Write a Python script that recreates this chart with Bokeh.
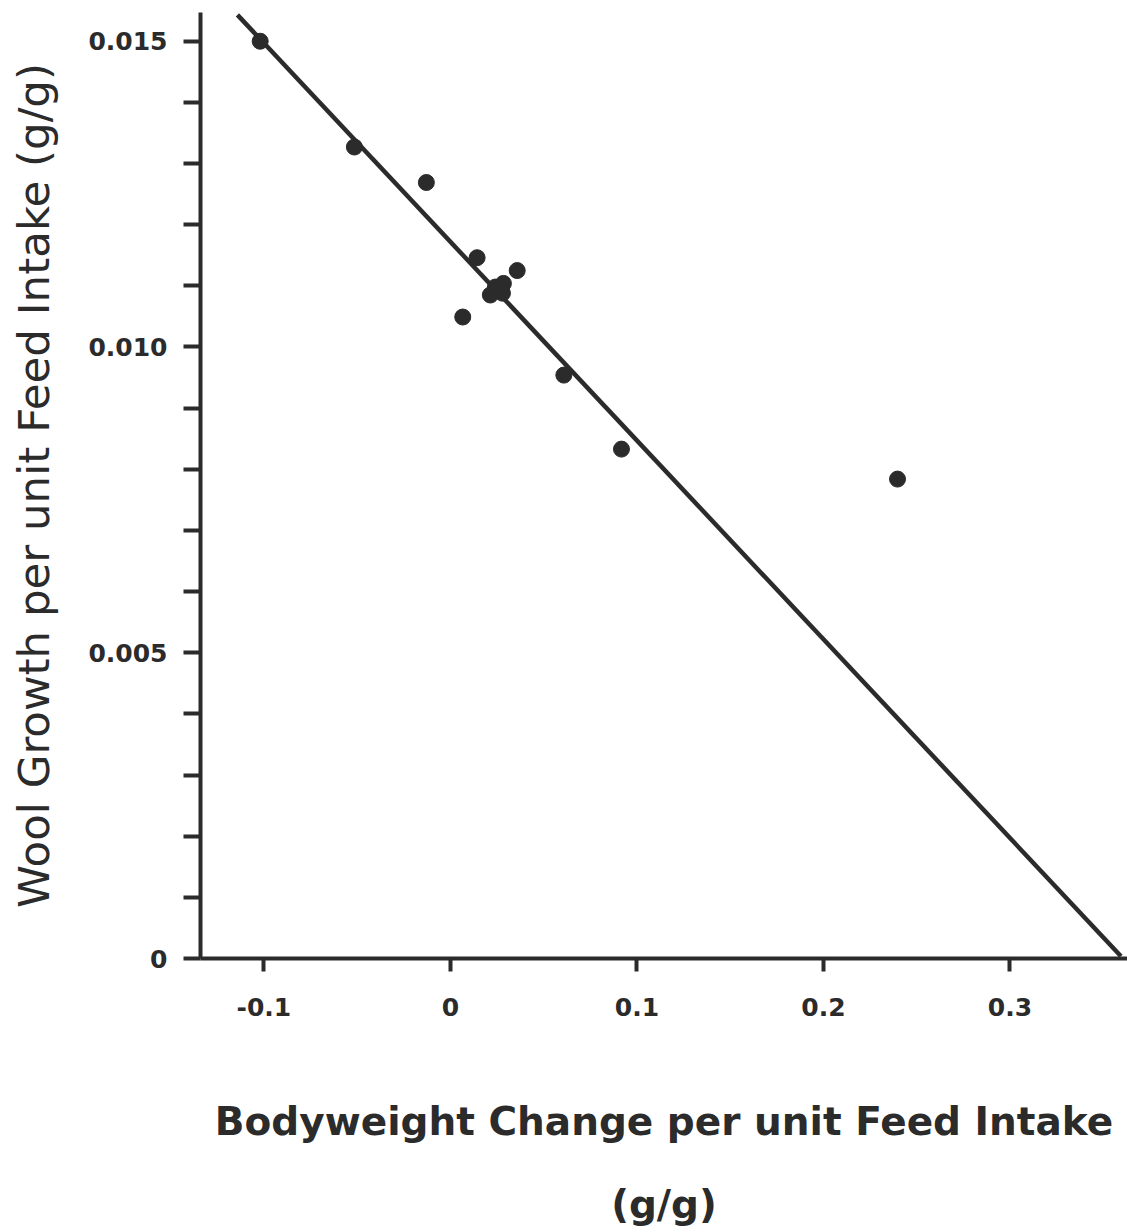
from bokeh.plotting import figure
from bokeh.models import FixedTicker, Range1d, ColumnDataSource
from bokeh.embed import file_html
from bokeh.resources import INLINE

# Bodyweight change per unit feed intake (g/g)
bw_change = [-0.102, -0.0515, -0.0129, 0.0066, 0.0143, 0.0214, 0.0241,
             0.0284, 0.0279, 0.0358, 0.0608, 0.0917, 0.2397]
# Wool growth per unit feed intake (g/g)
wool_growth = [0.0150, 0.01327, 0.01269, 0.01049, 0.01146, 0.01085, 0.01098,
               0.01104, 0.01088, 0.01125, 0.00954, 0.00833, 0.00784]

# fitted regression line
fit_intercept = 0.01172
fit_slope = -0.0325
fit_x = [-0.1142, 0.3595]

x_ticks = [-0.1, 0, 0.1, 0.2, 0.3]
x_labels = {-0.1: "-0.1", 0: "0", 0.1: "0.1", 0.2: "0.2", 0.3: "0.3"}
y_ticks = [0, 0.005, 0.010, 0.015]
y_minor = [0.001, 0.002, 0.003, 0.004, 0.006, 0.007, 0.008, 0.009,
           0.011, 0.012, 0.013, 0.014]
y_labels = {0: "0", 0.005: "0.005", 0.01: "0.010", 0.015: "0.015"}

INK = "#2b2b2b"

p = figure(width=1127, height=1232, output_backend="svg", toolbar_location=None,
           x_range=Range1d(-0.134, 0.363), y_range=Range1d(0, 0.01547),
           min_border_left=200, min_border_right=0, min_border_top=12,
           min_border_bottom=274, background_fill_color="white",
           border_fill_color="white")
p.outline_line_color = None
p.grid.visible = False

fit_y = [fit_intercept + fit_slope * x for x in fit_x]
p.line(fit_x, fit_y, line_color=INK, line_width=4.5)

src = ColumnDataSource(dict(x=bw_change, y=wool_growth))
p.scatter("x", "y", source=src, size=16, fill_color=INK, line_color=INK)

for ax in (p.xaxis[0], p.yaxis[0]):
    ax.axis_line_color = INK
    ax.axis_line_width = 4
    ax.major_tick_line_color = INK
    ax.major_tick_line_width = 4
    ax.minor_tick_line_color = INK
    ax.minor_tick_line_width = 4
    ax.major_tick_in = 0
    ax.minor_tick_in = 0
    ax.major_label_text_font = "DejaVu Sans"
    ax.major_label_text_font_style = "bold"
    ax.major_label_text_font_size = "25px"
    ax.major_label_text_color = INK
    ax.axis_label_text_color = INK

xa = p.xaxis[0]
xa.ticker = FixedTicker(ticks=x_ticks, minor_ticks=[])
xa.major_label_overrides = x_labels
xa.major_tick_out = 13
xa.major_label_standoff = 26
xa.axis_label = "Bodyweight Change per unit Feed Intake\n(g/g)"
xa.axis_label_text_font = "DejaVu Sans"
xa.axis_label_text_font_style = "bold"
xa.axis_label_text_font_size = "39px"
xa.axis_label_text_line_height = 1.86
xa.axis_label_standoff = 80

ya = p.yaxis[0]
ya.ticker = FixedTicker(ticks=y_ticks, minor_ticks=y_minor)
ya.major_label_overrides = y_labels
ya.major_tick_out = 17
ya.minor_tick_out = 17
ya.major_label_standoff = 16
ya.axis_label = "Wool Growth per unit Feed Intake (g/g)"
ya.axis_label_text_font = "DejaVu Sans"
ya.axis_label_text_font_style = "normal"
ya.axis_label_text_font_size = "43.5px"
ya.axis_label_standoff = 26

open("out.html", "w").write(file_html(p, INLINE))
